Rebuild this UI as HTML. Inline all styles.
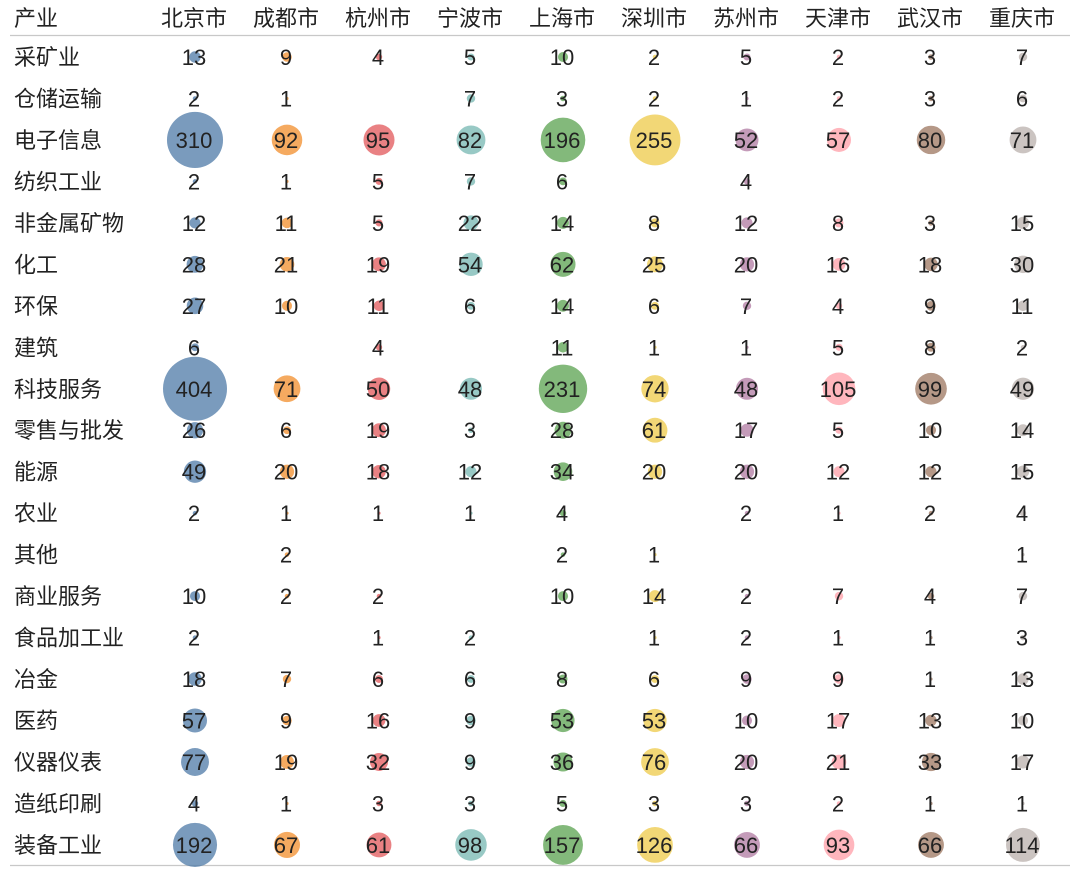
<!DOCTYPE html>
<html><head><meta charset="utf-8"><style>
body{margin:0;background:#fff;}
svg text{font-family:"Liberation Sans","Noto Sans CJK SC",sans-serif;font-size:22px;fill:#222;}
</style></head><body>
<svg id="chart" width="1080" height="873" xmlns="http://www.w3.org/2000/svg"></svg>
<script>
const cities=["北京市","成都市","杭州市","宁波市","上海市","深圳市","苏州市","天津市","武汉市","重庆市"];
const industries=["采矿业","仓储运输","电子信息","纺织工业","非金属矿物","化工","环保","建筑","科技服务","零售与批发","能源","农业","其他","商业服务","食品加工业","冶金","医药","仪器仪表","造纸印刷","装备工业"];
const values=[
[13,9,4,5,10,2,5,2,3,7],
[2,1,null,7,3,2,1,2,3,6],
[310,92,95,82,196,255,52,57,80,71],
[2,1,5,7,6,null,4,null,null,null],
[12,11,5,22,14,8,12,8,3,15],
[28,21,19,54,62,25,20,16,18,30],
[27,10,11,6,14,6,7,4,9,11],
[6,null,4,null,11,1,1,5,8,2],
[404,71,50,48,231,74,48,105,99,49],
[26,6,19,3,28,61,17,5,10,14],
[49,20,18,12,34,20,20,12,12,15],
[2,1,1,1,4,null,2,1,2,4],
[null,2,null,null,2,1,null,null,null,1],
[10,2,2,null,10,14,2,7,4,7],
[2,null,1,2,null,1,2,1,1,3],
[18,7,6,6,8,6,9,9,1,13],
[57,9,16,9,53,53,10,17,13,10],
[77,19,32,9,36,76,20,21,33,17],
[4,1,3,3,5,3,3,2,1,1],
[192,67,61,98,157,126,66,93,66,114]
];
const colors=["#4e79a7","#f28e2b","#e15759","#76b7b2","#59a14f","#edc948","#b07aa1","#ff9da7","#9c755f","#bab0ac"];
const svg=document.getElementById('chart');
const NS="http://www.w3.org/2000/svg";
const colX=i=>194+i*92;
const rowY=j=>57+j*41.47;
const maxV=404, maxR=32;
const rScale=v=>maxR*Math.sqrt(v/maxV);
function mk(tag,attrs){const e=document.createElementNS(NS,tag);for(const k in attrs)e.setAttribute(k,attrs[k]);svg.appendChild(e);return e;}
let t=mk('text',{x:14,y:26});t.textContent="产业";


cities.forEach((c,i)=>{
  const e=mk('text',{x:colX(i),y:26,'text-anchor':'middle'});e.textContent=c;
  
  
});
let l=mk('line',{x1:10,x2:1070,y1:35.5,y2:35.5,stroke:'#c8c8c8','stroke-width':1.2});


l=mk('line',{x1:10,x2:1070,y1:865.5,y2:865.5,stroke:'#c8c8c8','stroke-width':1.2});


industries.forEach((ind,j)=>{
  const e=mk('text',{x:14,y:rowY(j)+8});e.textContent=ind;
  
  
  values[j].forEach((v,i)=>{
    if(v==null)return;
    const c=mk('circle',{cx:colX(i)+1,cy:rowY(j),r:rScale(v),fill:colors[i],'fill-opacity':0.75});
    
    
    const tx=mk('text',{x:colX(i),y:rowY(j)+8,'text-anchor':'middle'});tx.textContent=v;
    
    
  });
});
</script>
</body></html>
